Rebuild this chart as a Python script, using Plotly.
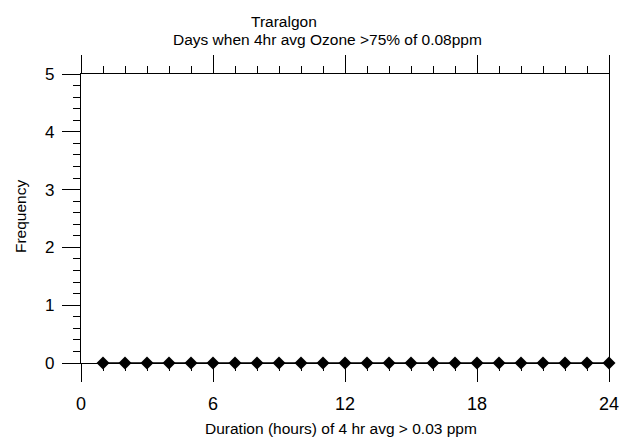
import plotly.graph_objects as go

# Traralgon: frequency of days by duration (hours) of 4 hr avg > 0.03 ppm
durations = [1, 2, 3, 4, 5, 6, 7, 8, 9, 10, 11, 12,
             13, 14, 15, 16, 17, 18, 19, 20, 21, 22, 23, 24]
frequency = [0, 0, 0, 0, 0, 0, 0, 0, 0, 0, 0, 0,
             0, 0, 0, 0, 0, 0, 0, 0, 0, 0, 0, 0]
x_ticks = [0, 6, 12, 18, 24]
y_ticks = [0, 1, 2, 3, 4, 5]

font = "Liberation Sans, Arial, sans-serif"

fig = go.Figure()
# invisible copy so the top axis gets drawn
fig.add_trace(go.Scatter(
    x=durations, y=frequency, xaxis="x2", mode="markers",
    marker=dict(opacity=0), hoverinfo="skip", showlegend=False,
))
fig.add_trace(go.Scatter(
    x=durations, y=frequency, mode="lines+markers",
    line=dict(color="black", width=1.5),
    marker=dict(symbol="diamond", size=10, color="black"),
    cliponaxis=False, showlegend=False,
))

tick_style = dict(ticks="outside", ticklen=18, tickwidth=1.2, tickcolor="black",
                  showgrid=False, zeroline=False, automargin=False)

fig.update_layout(
    xaxis=dict(
        range=[0, 24], tickvals=x_ticks, ticktext=[str(v) for v in x_ticks],
        showline=True, linecolor="black", linewidth=1.2, mirror=True,
        minor=dict(dtick=1, ticks="outside", ticklen=7, tickwidth=1, tickcolor="black"),
        tickfont=dict(family=font, size=18, color="black"), ticklabelstandoff=6,
        **tick_style,
    ),
    # top axis: same scale, ticks only
    xaxis2=dict(
        range=[0, 24], overlaying="x", side="top", anchor="y",
        tickvals=x_ticks, showticklabels=False, showline=False,
        minor=dict(dtick=1, ticks="outside", ticklen=7, tickwidth=1, tickcolor="black"),
        **tick_style,
    ),
    yaxis=dict(
        range=[0, 5], tickvals=y_ticks, ticktext=[str(v) for v in y_ticks],
        showline=True, linecolor="black", linewidth=1.2, mirror=True,
        minor=dict(dtick=0.2, ticks="outside", ticklen=7, tickwidth=1, tickcolor="black"),
        tickfont=dict(family=font, size=17, color="black"), ticklabelstandoff=4,
        **tick_style,
    ),
)

ann = dict(xref="paper", yref="paper", showarrow=False,
           xanchor="center", yanchor="middle")
fig.add_annotation(text="Traralgon", x=0.3845, y=1.18,
                   font=dict(family=font, size=15.5, color="black"), **ann)
fig.add_annotation(text="Days when 4hr avg Ozone >75% of 0.08ppm", x=0.466, y=1.118,
                   font=dict(family=font, size=15.5, color="black"), **ann)
fig.add_annotation(text="Duration (hours) of 4 hr avg > 0.03 ppm", x=0.492, y=-0.225,
                   font=dict(family=font, size=15.5, color="black"), **ann)
fig.add_annotation(text="Frequency", x=-0.1155, y=0.505, textangle=-90,
                   font=dict(family=font, size=15.5, color="black"), **ann)

fig.update_layout(
    width=634, height=441,
    margin=dict(l=81, r=25, t=74, b=78, autoexpand=False),
    plot_bgcolor="white", paper_bgcolor="white",
)

# drop the browser's default page margin so the figure sits at the top-left corner
fig.write_html("out.html", config={"displayModeBar": False},
               post_script="document.body.style.margin='0';")
